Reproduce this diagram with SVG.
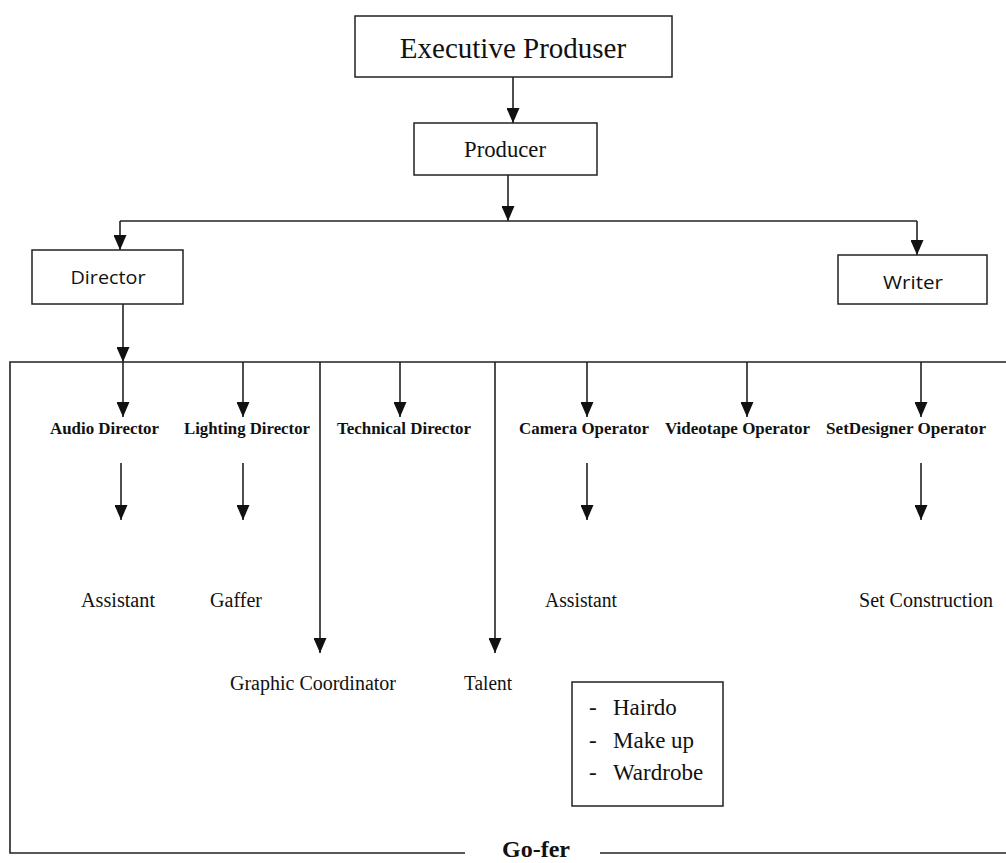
<svg xmlns="http://www.w3.org/2000/svg" width="1006" height="863" viewBox="0 0 1006 863">
<style>
.box{fill:#fff;stroke:#222;stroke-width:1.5}
.ln{fill:none;stroke:#222;stroke-width:1.6}
.ar{fill:none;stroke:#222;stroke-width:1.6;marker-end:url(#ah)}
.serif{font-family:"Liberation Serif","Times New Roman",serif;fill:#111}
.sans{font-family:"Open Sans","Liberation Sans",sans-serif;fill:#111}
.b{font-weight:bold;font-size:17px}
.r{font-size:20px}
</style>
<defs>
<marker id="ah" viewBox="0 0 15 13" refX="15" refY="6.5" markerWidth="15" markerHeight="13" markerUnits="userSpaceOnUse" orient="auto">
<path d="M0,0 L15,6.5 L0,13 z" fill="#111"/>
</marker>
</defs>
<rect width="1006" height="863" fill="#fff"/>
<g id="connectors">
<path class="ar" d="M513,77 V123"/>
<path class="ar" d="M508,175 V221"/>
<path class="ln" d="M120,221 H917"/>
<path class="ar" d="M120,221 V250"/>
<path class="ar" d="M917,221 V255"/>
<path class="ar" d="M123,304 V362"/>
<path class="ar" d="M123,362 V417"/>
<path class="ar" d="M243,362 V417"/>
<path class="ar" d="M400,362 V417"/>
<path class="ar" d="M587,362 V417"/>
<path class="ar" d="M747,362 V417"/>
<path class="ar" d="M921,362 V417"/>
<path class="ar" d="M320,362 V653"/>
<path class="ar" d="M495,362 V653"/>
<path class="ar" d="M121,463 V520"/>
<path class="ar" d="M243,463 V520"/>
<path class="ar" d="M587,463 V520"/>
<path class="ar" d="M921,463 V520"/>
</g>
<g id="gofer-frame">
<path class="ln" d="M1006,362 H10 V853 H465"/>
<path class="ln" d="M600,853 H1006"/>
<text class="serif" x="536" y="857" font-size="24" font-weight="bold" text-anchor="middle">Go-fer</text>
</g>
<g id="executive-produser">
<rect class="box" x="355" y="16" width="317" height="61"/>
<text class="serif" x="513" y="58" font-size="29" text-anchor="middle">Executive Produser</text>
</g>
<g id="producer">
<rect class="box" x="414" y="123" width="183" height="52"/>
<text class="serif" x="505" y="157" font-size="23" text-anchor="middle" textLength="82" lengthAdjust="spacingAndGlyphs">Producer</text>
</g>
<g id="director">
<rect class="box" x="32" y="250" width="151" height="54"/>
<text class="sans" x="108" y="284" font-size="18" text-anchor="middle" textLength="75" lengthAdjust="spacingAndGlyphs">Director</text>
</g>
<g id="writer">
<rect class="box" x="838" y="255" width="149" height="49"/>
<text class="sans" x="913" y="289" font-size="18" text-anchor="middle" textLength="60" lengthAdjust="spacingAndGlyphs">Writer</text>
</g>
<g id="audio-director"><text class="serif b" x="50" y="434" textLength="109" lengthAdjust="spacingAndGlyphs">Audio Director</text></g>
<g id="lighting-director"><text class="serif b" x="184" y="434" textLength="126" lengthAdjust="spacingAndGlyphs">Lighting Director</text></g>
<g id="technical-director"><text class="serif b" x="337" y="434" textLength="134" lengthAdjust="spacingAndGlyphs">Technical Director</text></g>
<g id="camera-operator"><text class="serif b" x="519" y="434" textLength="130" lengthAdjust="spacingAndGlyphs">Camera  Operator</text></g>
<g id="videotape-operator"><text class="serif b" x="665" y="434" textLength="145" lengthAdjust="spacingAndGlyphs">Videotape Operator</text></g>
<g id="setdesigner-operator"><text class="serif b" x="826" y="434" textLength="160" lengthAdjust="spacingAndGlyphs">SetDesigner  Operator</text></g>
<g id="assistant-audio"><text class="serif r" x="81" y="607" textLength="74" lengthAdjust="spacingAndGlyphs">Assistant</text></g>
<g id="gaffer"><text class="serif r" x="210" y="607" textLength="52" lengthAdjust="spacingAndGlyphs">Gaffer</text></g>
<g id="assistant-camera"><text class="serif r" x="545" y="607" textLength="72" lengthAdjust="spacingAndGlyphs">Assistant</text></g>
<g id="set-construction"><text class="serif r" x="859" y="607" textLength="134" lengthAdjust="spacingAndGlyphs">Set Construction</text></g>
<g id="graphic-coordinator"><text class="serif r" x="230" y="690" textLength="166" lengthAdjust="spacingAndGlyphs">Graphic Coordinator</text></g>
<g id="talent"><text class="serif r" x="464" y="690" textLength="48" lengthAdjust="spacingAndGlyphs">Talent</text></g>
<g id="talent-list">
<rect class="box" x="572" y="682" width="151" height="124"/>
<text class="serif" font-size="23">
<tspan x="589" y="715">-</tspan><tspan x="613" y="715">Hairdo</tspan>
<tspan x="589" y="748">-</tspan><tspan x="613" y="748">Make up</tspan>
<tspan x="589" y="780">-</tspan><tspan x="613" y="780">Wardrobe</tspan>
</text>
</g>
</svg>
